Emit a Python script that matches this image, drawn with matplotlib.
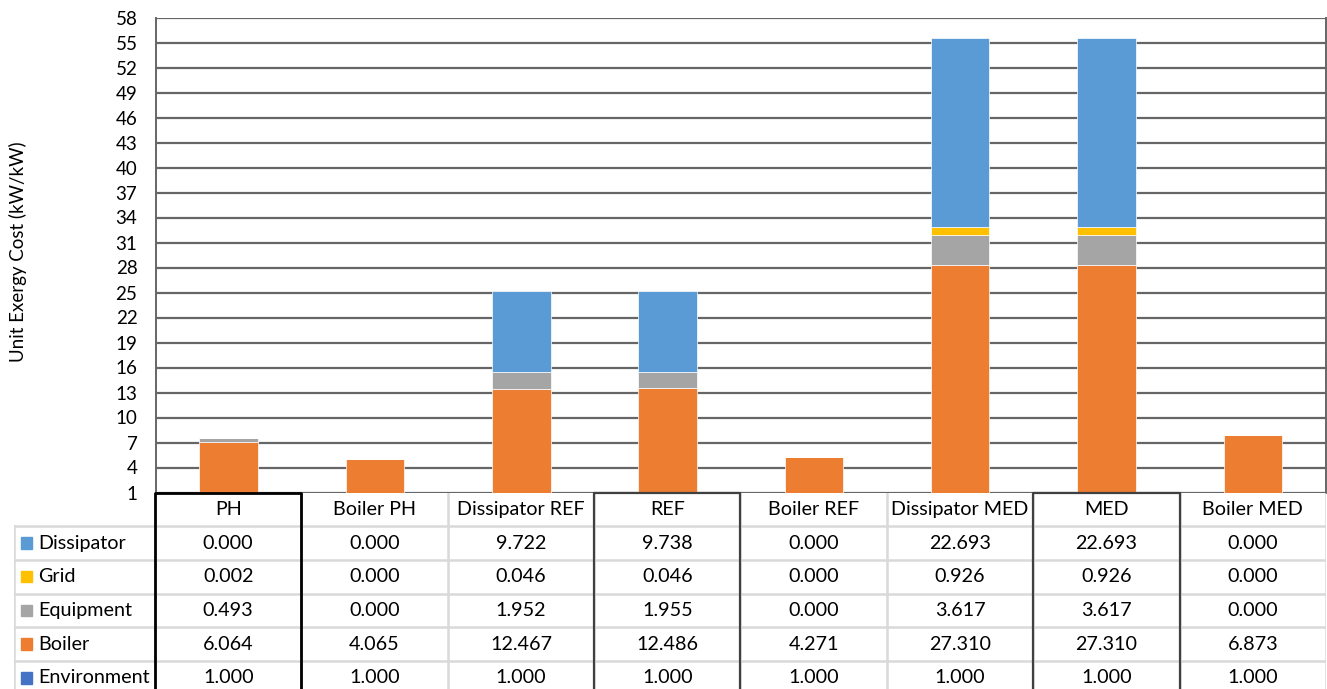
import matplotlib.pyplot as plt
import numpy as np

plt.rcParams["font.family"] = ["Lato", "DejaVu Sans"]

# chart data
CATEGORIES = [
    "PH",
    "Boiler PH",
    "Dissipator REF",
    "REF",
    "Boiler REF",
    "Dissipator MED",
    "MED",
    "Boiler MED",
]
ENVIRONMENT = [1.000, 1.000, 1.000, 1.000, 1.000, 1.000, 1.000, 1.000]
BOILER = [6.064, 4.065, 12.467, 12.486, 4.271, 27.310, 27.310, 6.873]
EQUIPMENT = [0.493, 0.000, 1.952, 1.955, 0.000, 3.617, 3.617, 0.000]
GRID = [0.002, 0.000, 0.046, 0.046, 0.000, 0.926, 0.926, 0.000]
DISSIPATOR = [0.000, 0.000, 9.722, 9.738, 0.000, 22.693, 22.693, 0.000]

Y_TICKS = np.arange(1, 59, 3)

# stacking order (bottom -> top); the table lists them top -> bottom
SERIES = [
    ("Environment", ENVIRONMENT, "#4472C4"),
    ("Boiler", BOILER, "#ED7D31"),
    ("Equipment", EQUIPMENT, "#A5A5A5"),
    ("Grid", GRID, "#FFC000"),
    ("Dissipator", DISSIPATOR, "#5B9BD5"),
]
HIGHLIGHT = {"PH": "black", "REF": "#404040", "MED": "#404040"}

W, H = 1327, 689
fig = plt.figure(figsize=(W / 100, H / 100), dpi=100)


def px(x0, y0, x1, y1):
    """convert pixel box to figure fraction"""
    return [x0 / W, 1 - y1 / H, (x1 - x0) / W, (y1 - y0) / H]


ax = fig.add_axes(px(155.5, 17.5, 1326, 492.5))
x = np.arange(len(CATEGORIES))
bottom = np.zeros(len(CATEGORIES))
for name, vals, color in SERIES:
    vals = np.array(vals)
    ax.bar(x, vals, 0.4, bottom=bottom, color=color, edgecolor="white",
           linewidth=0.5, zorder=3)
    bottom += vals

ax.set_xlim(-0.5, len(CATEGORIES) - 0.5)
ax.set_ylim(1, 58)
ax.set_yticks(Y_TICKS)
ax.set_xticks([])
ax.tick_params(axis="y", length=0, labelsize=13.5, pad=13)
ax.grid(axis="y", color="#666666", linewidth=1.6, zorder=0)
for s in ["left", "right"]:
    ax.spines[s].set_color("#666666")
    ax.spines[s].set_linewidth(1.4)
ax.spines["top"].set_visible(False)
ax.spines["bottom"].set_visible(False)
ax.set_ylabel("Unit Exergy Cost (kW/kW)", fontsize=13.5)
ax.yaxis.set_label_coords((27 - 155.5) / 1170.5, (492.5 - 252) / 475)

# data table below the chart
LABEL_W = (155 - 14) / 146.4
ROW_H = 33.7
tab = fig.add_axes(px(14, 492.5, 1326, 689))
tab.set_xlim(-0.5 - LABEL_W, len(CATEGORIES) - 0.5)
tab.set_ylim((689 - 492.5) / ROW_H, 0)
tab.axis("off")

n_rows = len(SERIES)
grid_c = "#d9d9d9"
FS = 14.2
# horizontal lines
for r in range(1, n_rows + 1):
    tab.plot([-0.5 - LABEL_W, len(CATEGORIES) - 0.5], [r, r], color=grid_c,
             lw=1.8, zorder=1)
# vertical lines
for c in range(len(CATEGORIES) + 1):
    tab.plot([c - 0.5, c - 0.5], [0, n_rows + 1], color=grid_c, lw=1.8, zorder=1)
tab.plot([-0.5 - LABEL_W] * 2, [1, n_rows + 1], color=grid_c, lw=1.8, zorder=1)

# header
for i, cat in enumerate(CATEGORIES):
    tab.text(i, 0.5, cat, ha="center", va="center", fontsize=FS)

# rows: top of table is last stacked series
for r, (name, vals, color) in enumerate(SERIES[::-1]):
    y = r + 1.5
    tab.add_patch(plt.Rectangle((-0.5 - LABEL_W + 0.045, y - 0.17), 0.075, 0.34,
                                color=color, zorder=2))
    tab.text(-0.5 - LABEL_W + 0.165, y, name, ha="left", va="center", fontsize=FS)
    for i, v in enumerate(vals):
        tab.text(i, y, f"{v:.3f}", ha="center", va="center", fontsize=FS)

# outlined columns
for i, cat in enumerate(CATEGORIES):
    if cat in HIGHLIGHT:
        lw = 2.0 if cat == "PH" else 1.6
        tab.plot([i - 0.5, i - 0.5, i + 0.5, i + 0.5],
                 [n_rows + 1, 0, 0, n_rows + 1],
                 color=HIGHLIGHT[cat], lw=lw, zorder=4, clip_on=False)

fig.savefig("out.png", dpi=100)
